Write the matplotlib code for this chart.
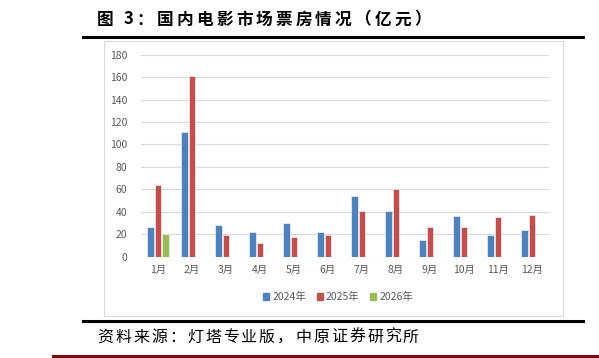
import matplotlib
matplotlib.use("Agg")
import matplotlib.pyplot as plt
import numpy as np
from matplotlib.lines import Line2D
from matplotlib.patches import Rectangle, Patch

plt.rcParams['font.family'] = ['Noto Sans CJK SC', 'DejaVu Sans']

# monthly box office, 100 million yuan
months = ["1月", "2月", "3月", "4月", "5月", "6月",
          "7月", "8月", "9月", "10月", "11月", "12月"]
box_2024 = [26.1, 111.4, 27.9, 22.3, 29.7, 22.3, 53.9, 40.3, 14.8, 36.4, 19.0, 23.4]
box_2025 = [63.9, 161.3, 19.0, 12.2, 17.5, 19.0, 40.6, 59.9, 26.7, 26.1, 35.3, 37.0]
box_2026 = [19.9]
series_names = ["2024年", "2025年", "2026年"]
yticks = [0, 20, 40, 60, 80, 100, 120, 140, 160, 180]

title_txt = "图 3：国内电影市场票房情况（亿元）"
source_txt = "资料来源：灯塔专业版，中原证券研究所"

blue = '#4F81BD'
red = '#C0504D'
green = '#9BBB59'
grey_txt = '#595959'

W, H = 599, 358
fig = plt.figure(figsize=(W / 100, H / 100), dpi=100)
renderer = fig.canvas.get_renderer()

def fx(px):
    return px / W

def fy(py):
    return 1 - py / H

def spaced_text(x0, y, s, gap, **kw):
    # the original has wide letter spacing, so put chars one by one
    x = x0
    for ch in s:
        t = fig.text(fx(x), fy(y), ch, va='center', ha='left', **kw)
        x += t.get_window_extent(renderer).width + gap

# title and frame lines
spaced_text(97, 19.5, title_txt, 3.2, fontsize=12, fontweight='bold')
fig.add_artist(Line2D([fx(83), fx(583)], [fy(37), fy(37)], color='black', lw=2.2,
                      transform=fig.transFigure))
fig.add_artist(Line2D([fx(83), fx(583)], [fy(321), fy(321)], color='black', lw=2.2,
                      transform=fig.transFigure))
fig.add_artist(Line2D([fx(53), fx(599)], [fy(356), fy(356)], color='#7B0C0C', lw=2.2,
                      transform=fig.transFigure))
fig.add_artist(Rectangle((fx(104), fy(316)), fx(563) - fx(104), fy(41) - fy(316),
                         fill=False, edgecolor='#D9D9D9', lw=0.8,
                         transform=fig.transFigure))
spaced_text(97, 337.5, source_txt, 2.0, fontsize=11.5)

# chart
ax = fig.add_axes([fx(141), fy(256.7), fx(549) - fx(141), fy(54.7) - fy(256.7)])
x = np.arange(1, len(months) + 1)
step = 0.22
bw = 0.19
ax.bar(x - step, box_2024, bw, color=blue, edgecolor='white', lw=0.4, zorder=3)
ax.bar(x, box_2025, bw, color=red, edgecolor='white', lw=0.4, zorder=3)
ax.bar(x[:len(box_2026)] + step, box_2026, bw, color=green, edgecolor='white', lw=0.4, zorder=3)

ax.set_xlim(0.5, 12.5)
ax.set_ylim(0, 180)
ax.set_yticks(yticks)
ax.set_xticks(x)
ax.set_xticklabels(months)
ax.tick_params(axis='both', length=0, labelsize=7.5, colors=grey_txt)
ax.tick_params(axis='y', pad=10)
ax.tick_params(axis='x', pad=6)
ax.grid(axis='y', color='#D9D9D9', lw=0.8, zorder=0)
for s in ax.spines.values():
    s.set_visible(False)

handles = [Patch(color=c) for c in (blue, red, green)]
fig.legend(handles, series_names, loc='center', bbox_to_anchor=(fx(338), fy(297)),
           ncol=3, frameon=False, fontsize=7.5, labelcolor=grey_txt,
           handlelength=0.6, handleheight=0.6, handletextpad=0.3, columnspacing=1.0)

fig.savefig("out.png", dpi=100)
